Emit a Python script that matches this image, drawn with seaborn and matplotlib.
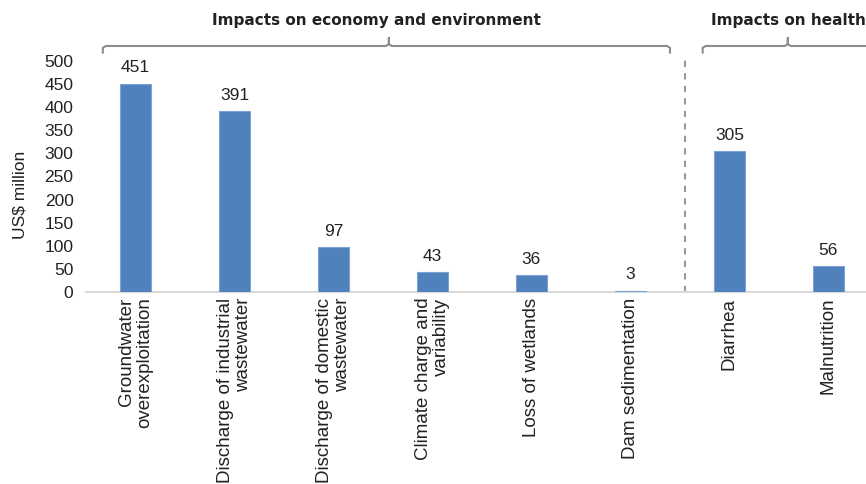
import matplotlib
matplotlib.use("Agg")
import matplotlib.pyplot as plt
import matplotlib.transforms as mtransforms
import seaborn as sns
import pandas as pd

# data
categories = [
    "Groundwater\noverexploitation",
    "Discharge of industrial\nwastewater",
    "Discharge of domestic\nwastewater",
    "Climate charge and\nvariability",
    "Loss of wetlands",
    "Dam sedimentation",
    "Diarrhea",
    "Malnutrition",
]
values = [451, 391, 97, 43, 36, 3, 305, 56]
groups = ["Impacts on economy and environment"] * 6 + ["Impacts on health"] * 2
y_ticks = [0, 50, 100, 150, 200, 250, 300, 350, 400, 450, 500]

df = pd.DataFrame({"category": categories, "value": values, "group": groups})

sns.set_theme(style="white")
plt.rcParams["font.family"] = ["Liberation Sans", "DejaVu Sans"]

fig = plt.figure(figsize=(8.66, 4.84), dpi=100)
ax = fig.add_axes([86 / 866, 1 - 292 / 484, 1 - 86 / 866, 231 / 484])

sns.barplot(data=df, x="category", y="value", color="#4f81bd", width=0.32,
            edgecolor="#7ba3d4", linewidth=0.8, saturation=1, ax=ax)
for p in ax.patches:
    p.set_zorder(3)

# value labels
for i, v in enumerate(values):
    ax.annotate(str(v), (i, v), xytext=(0, 6), textcoords="offset points",
                ha="center", va="bottom", fontsize=12.5, color="#222222")

ax.set_ylim(0, 500)
ax.set_xlim(-0.5, 7.38)
ax.set_yticks(y_ticks)
ax.tick_params(axis="y", labelsize=12.5, colors="#222222", length=0, pad=9)
ax.tick_params(axis="x", length=0, pad=4)
ax.set_xticks(range(len(categories)))
ax.set_xticklabels(categories, rotation=90, ha="center", va="top",
                   multialignment="right", fontsize=13.5, color="#222222",
                   linespacing=1.05)
ax.set_xlabel("")
ax.set_ylabel("US$ million", fontsize=12.5, color="#222222")
ax.yaxis.set_label_coords(-0.075, 0.42)

for s in ["top", "right", "left"]:
    ax.spines[s].set_visible(False)
ax.spines["bottom"].set_color("#d9d9d9")
ax.spines["bottom"].set_linewidth(1.5)

trans = mtransforms.blended_transform_factory(ax.transData, ax.transAxes)

# separator between groups
first_health = groups.index("Impacts on health")
sep_x = first_health - 1 + 0.55
ax.plot([sep_x, sep_x], [0, 1.02], transform=trans, color="#999999",
        lw=1.5, ls=(0, (3, 3)), clip_on=False)

# brackets with headers
def bracket(x0, x1, xc, label, text_x, ha):
    yb, ye, yt = 1.065, 1.035, 1.10
    r = 0.03
    xs = [x0, x0, x0 + r, xc - r, xc, xc, xc, xc + r, x1 - r, x1, x1]
    ys = [ye, yb - 0.008, yb, yb, yb + 0.008, yt, yb + 0.008, yb, yb, yb - 0.008, ye]
    ax.plot(xs, ys, transform=trans, color="#8c8c8c", lw=1.5, clip_on=False,
            solid_joinstyle="round")
    ax.text(text_x, 1.175, label, transform=trans, ha=ha, va="center",
            fontsize=11, fontweight="bold", color="#222222",
            family="DejaVu Sans")

last_econ = first_health - 1
bracket(-0.33, last_econ + 0.40, 2.56, "Impacts on economy and environment", 2.43, "center")
bracket(first_health - 0.27, first_health + 1.45, first_health + 0.59,
        "Impacts on health", first_health - 0.19, "left")

fig.savefig("out.png", dpi=100)
